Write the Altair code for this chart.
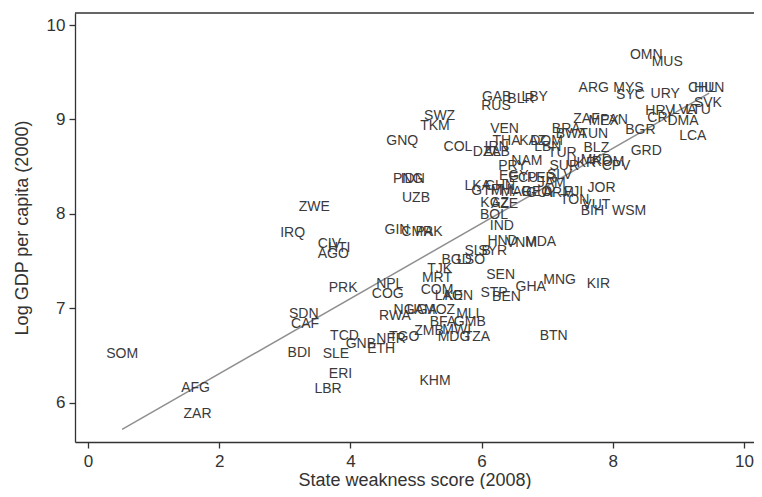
import altair as alt
import pandas as pd

codes = ["SOM","AFG","ZAR","BDI","SDN","CAF","SLE","ERI","LBR","TCD","GNB","ETH","NER","TGO","ZMB","KHM",
         "RWA","NGA","UGA","MOZ","BFA","GMB","MLI","MWI","MDG","TZA","COM","MRT","TJK","LAO","KEN","STP",
         "BEN","SEN","GHA","NPL","COG","BGD","LSO","SLB","SYR","HND","VNM","MDA","IND","BOL","MNG","KIR",
         "BTN","PRK","ZWE","IRQ","CIV","HTI","AGO","GIN","CMR","PAK","UZB","PNG","IDN","GNQ","SWZ","TKM",
         "COL","DZA","ALB","IRN","THA","KAZ","DOM","LBN","TUR","VEN","GAB","RUS","BLR","LBY","BRA","BWA",
         "TUN","ZAF","MEX","PAN","ARG","MYS","SYC","URY","OMN","MUS","CHL","HUN","SVK","HRV","LVA","LTU",
         "CRI","DMA","LCA","BGR","GRD","BLZ","PRY","NAM","EGY","SUR","UKR","MKD","ROM","CPV","JOR","VUT",
         "BIH","WSM","LKA","CHN","GTM","PHL","MAR","KGZ","AZE","ECU","PER","JAM","GEO","SLV","FJI","ARM",
         "TON","GUY"]
weakness = [0.52,1.64,1.67,3.22,3.29,3.31,3.78,3.85,3.66,3.91,4.16,4.47,4.62,4.82,5.20,5.29,
            4.68,4.89,5.09,5.36,5.41,5.82,5.79,5.62,5.58,5.93,5.32,5.32,5.36,5.50,5.65,6.19,
            6.38,6.29,6.75,4.60,4.57,5.62,5.84,5.94,6.17,6.32,6.61,6.90,6.31,6.19,7.19,7.78,
            7.10,3.89,3.45,3.12,3.68,3.83,3.74,4.71,5.02,5.20,5.00,4.88,4.95,4.79,5.36,5.29,
            5.64,6.08,6.23,6.23,6.38,6.78,6.99,7.01,7.23,6.35,6.23,6.22,6.60,6.81,7.29,7.37,
            7.71,7.60,7.86,8.02,7.71,8.24,8.27,8.80,8.51,8.83,9.36,9.47,9.45,8.72,9.09,9.30,
            8.71,9.07,9.22,8.42,8.51,7.75,6.47,6.69,6.49,7.26,7.52,7.75,7.93,8.05,7.83,7.75,
            7.69,8.25,5.94,6.28,6.08,6.35,6.53,6.20,6.35,6.64,6.91,7.07,6.84,7.19,7.40,7.17,
            7.42,6.91]
loggdp = [6.52,6.16,5.88,6.53,6.94,6.84,6.52,6.31,6.15,6.71,6.62,6.57,6.68,6.70,6.76,6.23,
          6.92,6.98,6.98,6.98,6.86,6.86,6.94,6.77,6.70,6.70,7.20,7.32,7.42,7.13,7.13,7.16,
          7.12,7.35,7.23,7.26,7.15,7.51,7.51,7.61,7.61,7.71,7.69,7.70,7.87,7.99,7.30,7.26,
          6.71,7.22,8.07,7.80,7.68,7.64,7.58,7.83,7.81,7.81,8.17,8.37,8.37,8.77,9.04,8.93,
          8.71,8.66,8.66,8.71,8.77,8.77,8.77,8.71,8.65,8.90,9.24,9.14,9.22,9.24,8.90,8.85,
          8.85,9.01,8.98,8.99,9.33,9.33,9.26,9.27,9.68,9.61,9.33,9.33,9.17,9.09,9.10,9.10,
          9.02,8.98,8.83,8.89,8.67,8.70,8.51,8.56,8.40,8.51,8.54,8.57,8.55,8.51,8.28,8.10,
          8.03,8.03,8.30,8.30,8.24,8.25,8.23,8.12,8.11,8.38,8.38,8.33,8.23,8.41,8.23,8.22,
          8.15,8.22]

fit_x = [0.52, 9.47]
fit_y = [5.72, 9.28]

x_ticks = [0, 2, 4, 6, 8, 10]
y_ticks = [6, 7, 8, 9, 10]

df = pd.DataFrame({"code": codes, "x": weakness, "y": loggdp})
fit = pd.DataFrame({"x": fit_x, "y": fit_y})

W, H = 679, 429
FONT = "Liberation Sans"
AX = "#333333"

xscale = alt.Scale(domain=[-0.198, 10.153], nice=False, zero=False)
yscale = alt.Scale(domain=[5.587, 10.127], nice=False, zero=False)

xaxis = alt.Axis(values=x_ticks, format="d", title="State weakness score (2008)", grid=False,
                 tickSize=6, tickWidth=1.3, tickColor=AX, domainColor=AX, domainWidth=1.3,
                 labelFontSize=17, labelFont=FONT, labelColor=AX, labelPadding=5,
                 titleFontSize=18, titleFont=FONT, titleColor=AX, titleFontWeight="normal",
                 titlePadding=2)
yaxis = alt.Axis(values=y_ticks, format="d", title="Log GDP per capita (2000)", grid=False,
                 tickSize=6, tickWidth=1.3, tickColor=AX, domainColor=AX, domainWidth=1.3,
                 labelFontSize=17, labelFont=FONT, labelColor=AX, labelPadding=4,
                 titleFontSize=18, titleFont=FONT, titleColor=AX, titleFontWeight="normal",
                 titlePadding=15)

line = alt.Chart(fit).mark_line(color="#8f8f8f", strokeWidth=1.5).encode(
    x=alt.X("x:Q", scale=xscale, axis=xaxis),
    y=alt.Y("y:Q", scale=yscale, axis=yaxis),
)

labels = alt.Chart(df).mark_text(font=FONT, fontSize=14, color="#3a3a3a",
                                 align="center", baseline="middle").encode(
    x=alt.X("x:Q", scale=xscale),
    y=alt.Y("y:Q", scale=yscale),
    text="code:N",
)

top = alt.Chart(pd.DataFrame({"a": [0]})).mark_rule(color=AX, strokeWidth=1.3).encode(
    x=alt.value(0), x2=alt.value(W), y=alt.value(0)
)

chart = alt.layer(line, labels, top).properties(
    width=W, height=H,
    padding={"left": 67, "top": 5, "right": 0, "bottom": 47},
    autosize=alt.AutoSizeParams(type="none"),
    background="white",
).configure_view(stroke=None)

chart.save("out.html", embed_options={"renderer": "svg", "actions": False})
